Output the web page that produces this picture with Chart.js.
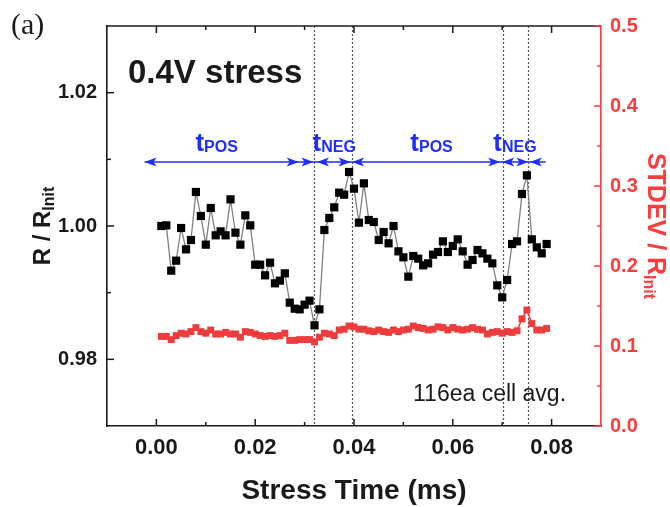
<!DOCTYPE html>
<html>
<head>
<meta charset="utf-8">
<script src="https://cdn.jsdelivr.net/npm/chart.js@4.4.0/dist/chart.umd.min.js"></script>
<style>
  html, body { margin: 0; padding: 0; background: #fff; }
  #wrap { width: 670px; height: 507px; position: relative; }
</style>
</head>
<body>
<div id="wrap"><canvas id="c"></canvas></div>
<script>
// ---------- data ----------
const timeMs = [0.001,0.002,0.003,0.004,0.005,0.006,0.007,0.008,0.009,0.010,
  0.011,0.012,0.013,0.014,0.015,0.016,0.017,0.018,0.019,0.020,
  0.021,0.022,0.023,0.024,0.025,0.026,0.027,0.028,0.029,0.030,
  0.031,0.032,0.033,0.034,0.035,0.036,0.037,0.038,0.039,0.040,
  0.041,0.042,0.043,0.044,0.045,0.046,0.047,0.048,0.049,0.050,
  0.051,0.052,0.053,0.054,0.055,0.056,0.057,0.058,0.059,0.060,
  0.061,0.062,0.063,0.064,0.065,0.066,0.067,0.068,0.069,0.070,
  0.071,0.072,0.073,0.074,0.075,0.076,0.077,0.078,0.079];

const rRatio = [1.0000,1.0001,0.9933,0.9948,0.9997,0.9965,0.9979,1.0051,1.0015,0.9972,
  1.0027,0.9986,0.9992,0.9986,1.0040,0.9990,0.9972,1.0016,1.0001,0.9942,
  0.9942,0.9926,0.9945,0.9914,0.9918,0.9929,0.9885,0.9876,0.9875,0.9882,
  0.9888,0.9851,0.9875,0.9994,1.0012,1.0028,1.0050,1.0047,1.0081,1.0056,
  1.0005,1.0064,1.0009,1.0006,0.9979,0.9991,0.9974,1.0000,0.9962,0.9953,
  0.9924,0.9955,0.9951,0.9941,0.9944,0.9957,0.9961,0.9977,0.9961,0.9970,
  0.9980,0.9962,0.9942,0.9949,0.9964,0.9959,0.9951,0.9944,0.9911,0.9893,
  0.9919,0.9973,0.9977,1.0048,1.0076,0.9980,0.9968,0.9959,0.9973];

const stdevRatio = [0.112,0.112,0.108,0.113,0.116,0.115,0.118,0.123,0.118,0.116,
  0.120,0.115,0.115,0.117,0.115,0.115,0.111,0.118,0.117,0.115,
  0.113,0.112,0.113,0.112,0.113,0.116,0.107,0.107,0.108,0.108,
  0.108,0.105,0.111,0.116,0.115,0.113,0.120,0.121,0.125,0.124,
  0.121,0.121,0.119,0.118,0.120,0.118,0.117,0.120,0.118,0.120,
  0.121,0.125,0.123,0.122,0.120,0.121,0.124,0.123,0.120,0.123,
  0.121,0.120,0.121,0.123,0.121,0.120,0.115,0.117,0.118,0.116,
  0.118,0.117,0.119,0.134,0.145,0.128,0.120,0.120,0.122];

const xTickLabels = [0.00, 0.02, 0.04, 0.06, 0.08];
const xMinorTicks = [0.01, 0.03, 0.05, 0.07];
const yTickLabels = [0.98, 1.00, 1.02];
const yMinorTicks = [0.99, 1.01];
const y2TickLabels = [0.0, 0.1, 0.2, 0.3, 0.4, 0.5];
const y2MinorTicks = [0.05, 0.15, 0.25, 0.35, 0.45];

// phase boundaries (ms) and arrow annotations
const phaseLines = [0.032, 0.0396, 0.0701, 0.0753];
const arrowLevel = 1.0096;
const arrowSpan = [-0.0024, 0.0788];
const arrowHeads = [[-0.0024,'L'],[0.0288,'R'],[0.0318,'R'],[0.0325,'L'],[0.0393,'R'],[0.0396,'L'],
                    [0.0696,'R'],[0.0700,'L'],[0.0753,'R'],[0.0756,'L']];
const phaseLabels = [['POS', 0.0079], ['NEG', 0.0316], ['POS', 0.0514], ['NEG', 0.0682]];
const phaseLabelLevel = 1.0113;

// ---------- styling ----------
const FONT = '"Liberation Sans", Arial, sans-serif';
const BLACK = '#1a1a1a';
const RED = '#ff3b3b';
const BLUE = '#1f2dff';

function drawRich(ctx, parts, x, y, rot, align) {
  ctx.save();
  ctx.translate(x, y);
  ctx.rotate(rot);
  let total = 0;
  parts.forEach(p => { ctx.font = p.font; p.w = ctx.measureText(p.text).width; total += p.w; });
  let cx = align === 'center' ? -total / 2 : 0;
  ctx.textAlign = 'left';
  ctx.textBaseline = 'alphabetic';
  parts.forEach(p => {
    ctx.font = p.font; ctx.fillStyle = p.color;
    ctx.fillText(p.text, cx, p.dy || 0);
    cx += p.w;
  });
  ctx.restore();
}

function seg(ctx, x1, y1, x2, y2) {
  ctx.beginPath(); ctx.moveTo(x1, y1); ctx.lineTo(x2, y2); ctx.stroke();
}

const annot = {
  id: 'annot',
  beforeDatasetsDraw(chart) {
    const {ctx, chartArea: a, scales: {x}} = chart;
    ctx.save();
    ctx.strokeStyle = '#555';
    ctx.lineWidth = 1.2;
    ctx.setLineDash([2, 2]);
    phaseLines.forEach(v => {
      const px = Math.round(x.getPixelForValue(v)) + 0.5;
      seg(ctx, px, a.top, px, a.bottom);
    });
    ctx.restore();
  },
  afterDraw(chart) {
    const {ctx, chartArea: a, scales: {x, y, y2}} = chart;
    ctx.save();
    // top frame line
    ctx.strokeStyle = BLACK; ctx.lineWidth = 1.6;
    seg(ctx, a.left, a.top, a.right, a.top);
    // inward ticks
    ctx.lineWidth = 1.5;
    const xt = (vals, len) => vals.forEach(v => {
      const px = x.getPixelForValue(v);
      seg(ctx, px, a.bottom, px, a.bottom - len);
      seg(ctx, px, a.top, px, a.top + len);
    });
    xt(xTickLabels, 7); xt(xMinorTicks, 4);
    const yt = (vals, len) => vals.forEach(v => {
      const py = y.getPixelForValue(v);
      seg(ctx, a.left, py, a.left + len, py);
    });
    yt(yTickLabels, 7); yt(yMinorTicks, 4);
    ctx.strokeStyle = RED;
    const y2t = (vals, len) => vals.forEach(v => {
      const py = y2.getPixelForValue(v);
      seg(ctx, a.right, py, a.right - len, py);
    });
    y2t(y2TickLabels, 7); y2t(y2MinorTicks, 4);

    // arrows
    const ay = y.getPixelForValue(arrowLevel);
    ctx.strokeStyle = BLUE; ctx.fillStyle = BLUE; ctx.lineWidth = 1.5;
    seg(ctx, x.getPixelForValue(arrowSpan[0]), ay, x.getPixelForValue(arrowSpan[1]), ay);
    arrowHeads.forEach(([v, dir]) => {
      const px = x.getPixelForValue(v);
      const d = dir === 'R' ? -1 : 1;
      ctx.beginPath();
      ctx.moveTo(px, ay);
      ctx.lineTo(px + d * 12, ay - 4.5);
      ctx.lineTo(px + d * 9, ay);
      ctx.lineTo(px + d * 12, ay + 4.5);
      ctx.closePath();
      ctx.fill();
    });
    // phase labels
    const ly = y.getPixelForValue(phaseLabelLevel);
    phaseLabels.forEach(([sub, v]) => {
      drawRich(ctx, [
        {text: 't', font: 'bold 26px ' + FONT, color: BLUE},
        {text: sub, font: 'bold 16px ' + FONT, color: BLUE, dy: 1}
      ], x.getPixelForValue(v), ly, 0, 'left');
    });

    // texts
    ctx.fillStyle = BLACK;
    ctx.textAlign = 'left'; ctx.textBaseline = 'alphabetic';
    ctx.font = 'bold 33px ' + FONT;
    ctx.fillText('0.4V stress', 128, 83);
    ctx.font = '23px ' + FONT;
    ctx.fillText('116ea cell avg.', 413, 401);
    ctx.font = '30px "Liberation Serif", "Times New Roman", serif';
    ctx.fillText('(a)', 11, 34);

    // axis titles
    ctx.font = 'bold 28px ' + FONT;
    ctx.textAlign = 'center';
    ctx.fillText('Stress Time (ms)', (a.left + a.right) / 2, 499);
    drawRich(ctx, [
      {text: 'R / R', font: 'bold 24px ' + FONT, color: BLACK},
      {text: 'Init', font: 'bold 16px ' + FONT, color: BLACK, dy: 4}
    ], 50, (a.top + a.bottom) / 2, -Math.PI / 2, 'center');
    drawRich(ctx, [
      {text: 'STDEV / R', font: 'bold 25px ' + FONT, color: RED},
      {text: 'Init', font: 'bold 16px ' + FONT, color: RED, dy: 4}
    ], 648, (a.top + a.bottom) / 2, Math.PI / 2, 'center');
    ctx.restore();
  }
};

const ptsR = timeMs.map((t, i) => ({x: t, y: rRatio[i]}));
const ptsS = timeMs.map((t, i) => ({x: t, y: stdevRatio[i]}));

new Chart(document.getElementById('c'), {
  type: 'scatter',
  data: {
    datasets: [
      {
        data: ptsR, yAxisID: 'y', showLine: true,
        borderColor: '#808080', borderWidth: 1.3,
        pointStyle: 'rect', pointRadius: 5.8, pointBorderWidth: 0,
        pointBackgroundColor: '#000', order: 1
      },
      {
        data: ptsS, yAxisID: 'y2', showLine: true,
        borderColor: '#ee3c3c', borderWidth: 1.5,
        pointStyle: 'rect', pointRadius: 4.9, pointBorderWidth: 0,
        pointBackgroundColor: '#ee3c3c', order: 2
      }
    ]
  },
  options: {
    responsive: true,
    maintainAspectRatio: false,
    animation: false,
    devicePixelRatio: 1,
    layout: { padding: { top: 26, left: 0, right: 0, bottom: 0 } },
    plugins: { legend: { display: false }, tooltip: { enabled: false } },
    scales: {
      x: {
        type: 'linear', position: 'bottom', min: -0.01, max: 0.09,
        afterBuildTicks: s => { s.ticks = xTickLabels.map(v => ({value: v})); },
        afterFit: s => { s.height = 81; },
        grid: { display: false, drawTicks: false },
        border: { display: true, color: BLACK, width: 1.6 },
        ticks: { color: BLACK, padding: 9, maxRotation: 0, autoSkip: false,
                 font: { family: FONT, size: 22, weight: 'bold' },
                 callback: v => Number(v).toFixed(2) }
      },
      y: {
        type: 'linear', position: 'left', min: 0.97, max: 1.03,
        afterBuildTicks: s => { s.ticks = yTickLabels.map(v => ({value: v})); },
        afterFit: s => { s.width = 107; },
        grid: { display: false, drawTicks: false },
        border: { display: true, color: BLACK, width: 1.6 },
        ticks: { color: BLACK, padding: 10, autoSkip: false,
                 font: { family: FONT, size: 20, weight: 'bold' },
                 callback: v => Number(v).toFixed(2) }
      },
      y2: {
        type: 'linear', position: 'right', min: 0, max: 0.5,
        afterBuildTicks: s => { s.ticks = y2TickLabels.map(v => ({value: v})); },
        afterFit: s => { s.width = 69; },
        grid: { display: false, drawTicks: false },
        border: { display: true, color: RED, width: 1.6 },
        ticks: { color: RED, padding: 9, autoSkip: false,
                 font: { family: FONT, size: 20, weight: 'bold' },
                 callback: v => Number(v).toFixed(1) }
      }
    }
  },
  plugins: [annot]
});
</script>
</body>
</html>
